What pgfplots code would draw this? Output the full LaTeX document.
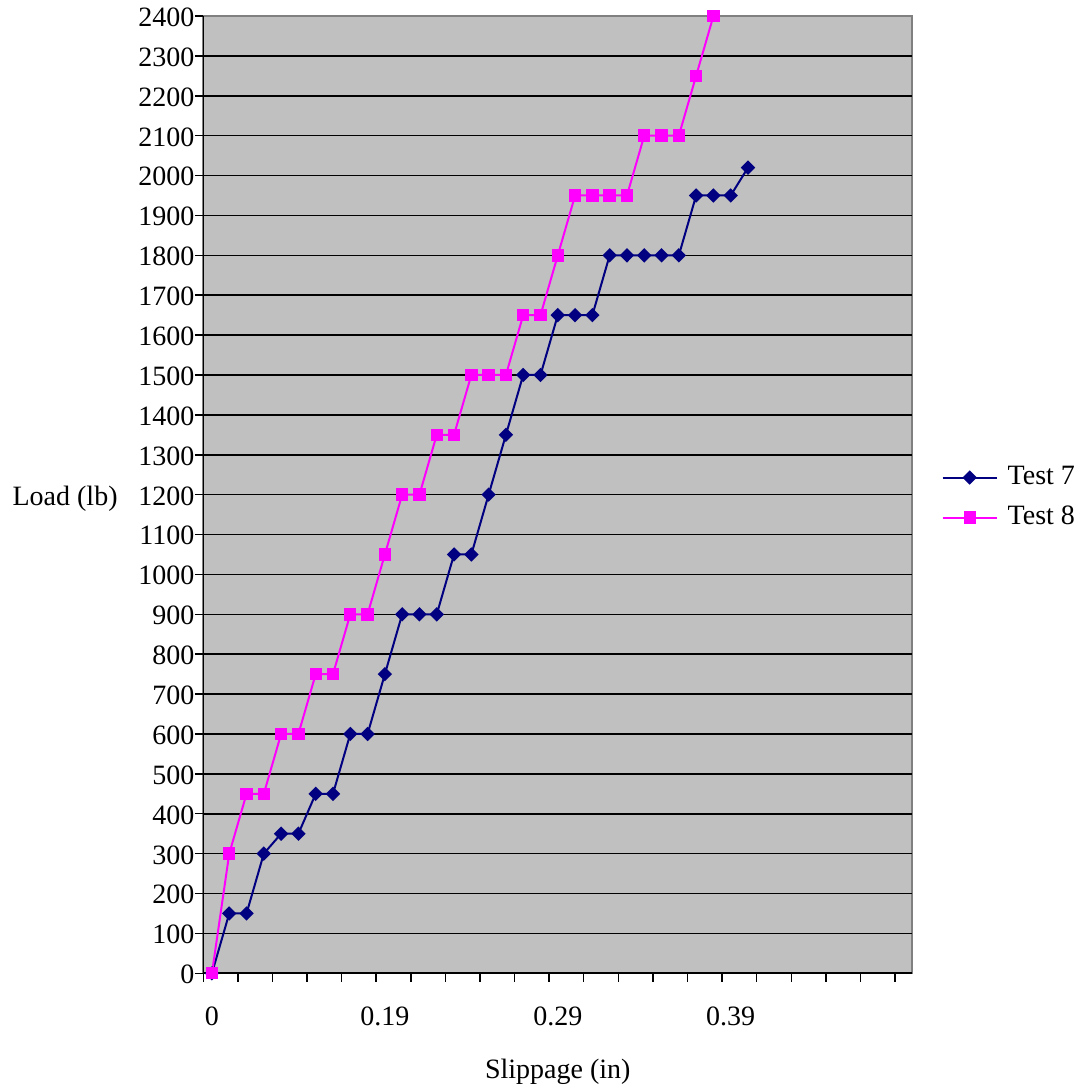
\documentclass[border=0pt]{standalone}
\usepackage{fontspec}
\setmainfont{Liberation Serif}
\usepackage{pgfplots}
\pgfplotsset{compat=1.18}
\definecolor{navyc}{HTML}{000080}
\definecolor{magc}{HTML}{FF00FF}
\definecolor{bgc}{HTML}{C0C0C0}
\definecolor{bordc}{HTML}{808080}
\begin{document}
\fontsize{14}{16.8}\selectfont
\begin{tikzpicture}
\useasboundingbox (-101.65pt,-58.85pt) rectangle (443.35pt,486.65pt);
\begin{axis}[
  at={(0pt,0pt)}, anchor=south west,
  scale only axis, width=354.5pt, height=478.65pt,
  xmin=-0.5, xmax=40.5, ymin=0, ymax=2400,
  clip=false,
  axis x line*=bottom, axis y line*=left,
  axis line style={black, line width=0.75pt},
  axis background/.style={fill=bgc, draw=bordc, line width=1pt},
  tick align=outside, major tick length=4.25pt,
  tick style={black, line width=0.75pt},
  xtick={-0.5,1.5,...,39.5},
  xticklabels={},
  extra x ticks={0,10,20,30},
  extra x tick labels={0,0.19,0.29,0.39},
  extra x tick style={major tick length=0pt, grid=none,
     xticklabel style={anchor=base, inner sep=0pt, yshift=-25.85pt}},
  ytick={0,100,...,2300},
  extra y ticks={2400},
  extra y tick style={grid=none},
  ymajorgrids,
  major grid style={black, line width=0.8pt},
  scaled y ticks=false,
  /pgf/number format/assume math mode=true,
  /pgf/number format/1000 sep={},
  tick label style={font=\fontsize{14}{16.8}\selectfont},
  yticklabel style={anchor=base east, inner sep=0pt, yshift=-5.2pt},
  every axis y label/.style={at={(axis description cs:0,0.5)}, anchor=base east, inner sep=0pt, xshift=-42.65pt, yshift=-5.2pt},
  every axis x label/.style={at={(axis description cs:0.5,0)}, anchor=base, inner sep=0pt, yshift=-52.35pt},
  ylabel={Load (lb)},
  xlabel={Slippage (in)},
  legend style={at={(axis description cs:1,0.5)}, anchor=west, xshift=14.5pt, yshift=-1.5pt,
     draw=none, fill=none, inner sep=0pt, row sep=4.7pt,
     font=\fontsize{14}{16.8}\selectfont,
     /tikz/every odd column/.append style={column sep=3pt}},
  legend cell align=left,
  legend image code/.code={\draw[mark repeat=2,mark phase=2,#1] plot coordinates {(0pt,0pt) (13.5pt,0pt) (27pt,0pt)};},
]
\addplot[navyc, line width=1pt, mark=diamond*, mark size=2.9pt,
  mark options={xscale=1.333, fill=navyc, solid}] coordinates {
(0,0) (1,150) (2,150) (3,300) (4,350) (5,350) (6,450) (7,450) (8,600) (9,600)
(10,750) (11,900) (12,900) (13,900) (14,1050) (15,1050) (16,1200) (17,1350) (18,1500) (19,1500)
(20,1650) (21,1650) (22,1650) (23,1800) (24,1800) (25,1800) (26,1800) (27,1800) (28,1950) (29,1950)
(30,1950) (31,2020)
};
\addlegendentry{Test 7}
\addplot[magc, line width=1pt, mark=square*, mark size=2.6pt,
  mark options={fill=magc, solid}] coordinates {
(0,0) (1,300) (2,450) (3,450) (4,600) (5,600) (6,750) (7,750) (8,900) (9,900)
(10,1050) (11,1200) (12,1200) (13,1350) (14,1350) (15,1500) (16,1500) (17,1500) (18,1650) (19,1650)
(20,1800) (21,1950) (22,1950) (23,1950) (24,1950) (25,2100) (26,2100) (27,2100) (28,2250) (29,2400)
};
\addlegendentry{Test 8}
\end{axis}
\end{tikzpicture}
\end{document}
